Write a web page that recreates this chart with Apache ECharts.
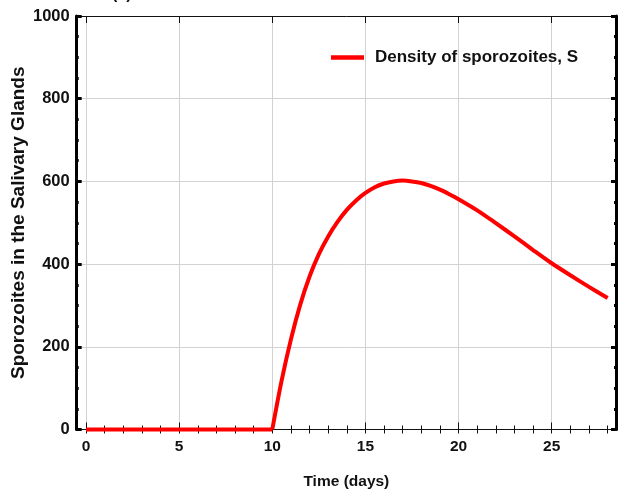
<!DOCTYPE html>
<html>
<head>
<meta charset="utf-8">
<script src="https://cdn.jsdelivr.net/npm/echarts@6/dist/echarts.min.js"></script>
<style>
  html, body { margin: 0; padding: 0; background: #ffffff; }
  #chart { width: 620px; height: 490px; }
</style>
</head>
<body>
<div id="chart"></div>
<script>
// Time points (days) and sporozoite density in the salivary glands
const timeDays = [0, 10, 10.5, 11, 11.5, 12, 12.5, 13, 13.5, 14, 14.5, 15, 15.5, 16, 16.5,
                  17, 17.5, 18, 18.5, 19, 19.5, 20, 21, 22, 23, 24, 25, 26, 27, 28];
const sporozoites = [0, 0, 118, 218, 302, 370, 424, 467, 502, 531, 554, 572, 586, 595, 600,
                     602, 600, 596, 589, 580, 569, 557, 530, 499, 467, 434, 402, 373, 345, 318];

const xMajorTicks = [0, 5, 10, 15, 20, 25];
const xMinorTicks = [0, 1, 2, 3, 4, 5, 6, 7, 8, 9, 10, 11, 12, 13, 14, 15, 16, 17, 18, 19, 20,
                     21, 22, 23, 24, 25, 26, 27, 28];
const yTicks = [0, 200, 400, 600, 800, 1000];

const seriesName = 'Density of sporozoites, S';
const xTitle = 'Time (days)';
const yTitle = 'Sporozoites in the Salivary Glands';
const panelTag = '(a)';

const font = "'Liberation Sans', Arial, Helvetica, sans-serif";

// Split the curve at the onset (t = 10): flat segment and the smooth rise/decay
const onset = timeDays.indexOf(10);
const flatPart = timeDays.slice(0, onset + 1).map((t, i) => [t, sporozoites[i]]);
const curvePart = timeDays.slice(onset).map((t, i) => [t, sporozoites[onset + i]]);

const X_MIN = -0.5, X_MAX = 28.45;
const gridLine = { show: true, lineStyle: { color: '#d2d2d2', width: 1 } };

function tickAxis(position, values, len, extra) {
  return Object.assign({
    type: 'value', position: position, min: X_MIN, max: X_MAX,
    axisLine: { show: false },
    axisTick: { show: true, inside: true, length: len, customValues: values,
                lineStyle: { color: '#111', width: 1 } },
    axisLabel: { show: false },
    splitLine: { show: false }
  }, extra || {});
}

const chart = echarts.init(document.getElementById('chart'), null, { renderer: 'canvas' });

chart.setOption({
  animation: false,
  backgroundColor: '#ffffff',
  grid: { left: 76.7, right: 4, top: 16, bottom: 60.5, containLabel: false,
          outerBoundsMode: 'none' },
  legend: {
    data: [seriesName],
    left: 331, top: 49, padding: 0,
    icon: 'rect',
    itemWidth: 33, itemHeight: 4.5,
    textStyle: { fontFamily: font, fontWeight: 'bold', fontSize: 17, color: '#111',
                 padding: [0, 0, 0, 6] }
  },
  graphic: [{
    type: 'text', left: 112, top: -13,
    style: { text: panelTag, font: "bold 16px " + font, fill: '#111' }
  }],
  xAxis: [
    {
      type: 'value', position: 'bottom', min: X_MIN, max: X_MAX,
      name: xTitle, nameLocation: 'middle', nameGap: 44, nameMoveOverlap: false,
      nameTextStyle: { fontFamily: font, fontWeight: 'bold', fontSize: 15.5, color: '#111' },
      axisLine: { show: true, onZero: false, lineStyle: { color: '#111', width: 1 } },
      axisTick: { show: true, inside: true, length: 7, customValues: xMajorTicks,
                  lineStyle: { color: '#111', width: 1 } },
      axisLabel: { customValues: xMajorTicks, margin: 9, fontFamily: font, fontWeight: 'bold',
                   fontSize: 15.5, color: '#111' },
      splitLine: gridLine
    },
    tickAxis('bottom', xMinorTicks, 4),
    tickAxis('top', xMajorTicks, 7, {
      axisLine: { show: true, onZero: false, lineStyle: { color: '#111', width: 1 } }
    }),
    tickAxis('top', xMinorTicks, 4)
  ],
  yAxis: [
    {
      type: 'value', position: 'left', min: 0, max: 1000, interval: 200,
      name: yTitle, nameLocation: 'middle', nameGap: 48, nameMoveOverlap: false,
      nameTextStyle: { fontFamily: font, fontWeight: 'bold', fontSize: 19, color: '#111' },
      axisLine: { show: true, onZero: false, lineStyle: { color: '#000', width: 3 } },
      axisTick: { show: true, inside: true, length: 5, lineStyle: { color: '#000', width: 3 } },
      minorTick: { show: true, splitNumber: 4, length: 2, lineStyle: { color: '#000', width: 3 } },
      axisLabel: { margin: 7, fontFamily: font, fontWeight: 'bold', fontSize: 16.5, color: '#111',
                   formatter: v => (yTicks.indexOf(v) >= 0 ? String(v) : '') },
      splitLine: gridLine
    },
    {
      type: 'value', position: 'right', min: 0, max: 1000, interval: 200,
      axisLine: { show: true, onZero: false, lineStyle: { color: '#000', width: 3 } },
      axisTick: { show: true, inside: true, length: 5, lineStyle: { color: '#000', width: 3 } },
      minorTick: { show: true, splitNumber: 4, length: 2, lineStyle: { color: '#000', width: 3 } },
      axisLabel: { show: false },
      splitLine: { show: false }
    }
  ],
  series: [
    {
      name: seriesName, type: 'line', xAxisIndex: 0, yAxisIndex: 0,
      data: curvePart, smooth: 0.3, symbol: 'none', showSymbol: false,
      clip: false, z: 5,
      lineStyle: { color: '#ff0000', width: 4 }, itemStyle: { color: '#ff0000' }
    },
    {
      name: seriesName, type: 'line', xAxisIndex: 0, yAxisIndex: 0,
      data: flatPart, symbol: 'none', showSymbol: false, clip: false, z: 5,
      lineStyle: { color: '#ff0000', width: 4 }, itemStyle: { color: '#ff0000' }
    }
  ]
});
</script>
</body>
</html>
